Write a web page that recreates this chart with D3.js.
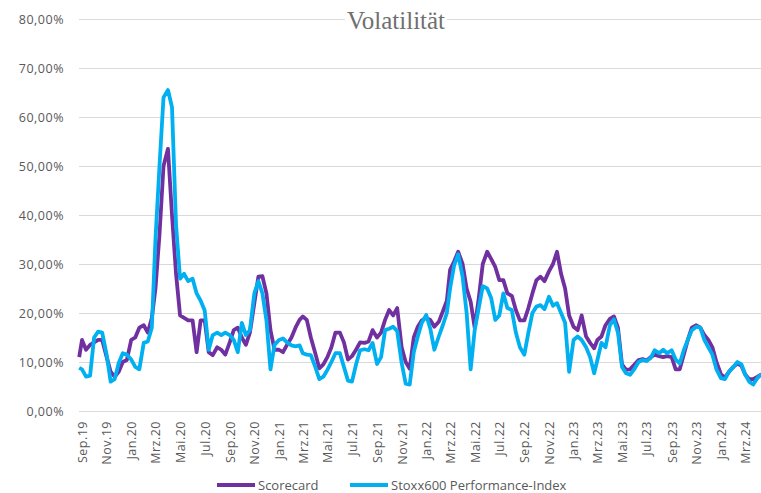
<!DOCTYPE html>
<html>
<head>
<meta charset="utf-8">
<script src="https://cdn.jsdelivr.net/npm/d3@7"></script>
<style>
  body { margin:0; background:#fff; }
  svg text { font-family:"Open Sans", sans-serif; fill:#595959; }
</style>
</head>
<body>
<div class="chart"></div>
<script>
// Volatilität, Stichtage 1./11./21. des Monats
const dates = [
  "2019-08-25",
  "2019-09-01","2019-09-11","2019-09-21","2019-10-01","2019-10-11","2019-10-21",
  "2019-11-01","2019-11-11","2019-11-21","2019-12-01","2019-12-11","2019-12-21",
  "2020-01-01","2020-01-11","2020-01-21","2020-02-01","2020-02-11","2020-02-21",
  "2020-03-01","2020-03-11","2020-03-21","2020-04-01","2020-04-11","2020-04-21",
  "2020-05-01","2020-05-11","2020-05-21","2020-06-01","2020-06-11","2020-06-21",
  "2020-07-01","2020-07-11","2020-07-21","2020-08-01","2020-08-11","2020-08-21",
  "2020-09-01","2020-09-11","2020-09-21","2020-10-01","2020-10-11","2020-10-21",
  "2020-11-01","2020-11-11","2020-11-21","2020-12-01","2020-12-11","2020-12-21",
  "2021-01-01","2021-01-11","2021-01-21","2021-02-01","2021-02-11","2021-02-21",
  "2021-03-01","2021-03-11","2021-03-21","2021-04-01","2021-04-11","2021-04-21",
  "2021-05-01","2021-05-11","2021-05-21","2021-06-01","2021-06-11","2021-06-21",
  "2021-07-01","2021-07-11","2021-07-21","2021-08-01","2021-08-11","2021-08-21",
  "2021-09-01","2021-09-11","2021-09-21","2021-10-01","2021-10-11","2021-10-21",
  "2021-11-01","2021-11-11","2021-11-21","2021-12-01","2021-12-11","2021-12-21",
  "2022-01-01","2022-01-11","2022-01-21","2022-02-01","2022-02-11","2022-02-21",
  "2022-03-01","2022-03-11","2022-03-21","2022-04-01","2022-04-11","2022-04-21",
  "2022-05-01","2022-05-11","2022-05-21","2022-06-01","2022-06-11","2022-06-21",
  "2022-07-01","2022-07-11","2022-07-21","2022-08-01","2022-08-11","2022-08-21",
  "2022-09-01","2022-09-11","2022-09-21","2022-10-01","2022-10-11","2022-10-21",
  "2022-11-01","2022-11-11","2022-11-21","2022-12-01","2022-12-11","2022-12-21",
  "2023-01-01","2023-01-11","2023-01-21","2023-02-01","2023-02-11","2023-02-21",
  "2023-03-01","2023-03-11","2023-03-21","2023-04-01","2023-04-11","2023-04-21",
  "2023-05-01","2023-05-11","2023-05-21","2023-06-01","2023-06-11","2023-06-21",
  "2023-07-01","2023-07-11","2023-07-21","2023-08-01","2023-08-11","2023-08-21",
  "2023-09-01","2023-09-11","2023-09-21","2023-10-01","2023-10-11","2023-10-21",
  "2023-11-01","2023-11-11","2023-11-21","2023-12-01","2023-12-11","2023-12-21",
  "2024-01-01","2024-01-11","2024-01-21","2024-02-01","2024-02-11","2024-02-21",
  "2024-03-01","2024-03-11","2024-03-21","2024-04-01","2024-04-11"
];

// Werte in %
const scorecard = [
  11,
  14.5,12.5,13.5, 14,14.5,14.5, 11,8,7, 8,10,10.4,
  14.5,15,17, 17.5,16,19, 25,36,50, 53.5,40,28,
  19.5,19,18.5, 18.5,12,18.5, 18.5,12,11.4, 13,12.5,11.5,
  14,16.5,17, 15,13.5,16, 22,27.4,27.5, 24,16.5,12.5,
  12.5,12,13.5, 15,17,18.6, 19.3,18.6,15, 11.8,8.7,9.5,
  11,13,16, 16,14,10.5, 11.2,12.5,14, 13.9,14.2,16.5,
  15,16,18.6, 20.6,19.5,21, 13,10,8.6, 15,17.2,18.5,
  19,18.6,17.2, 18.2,20.3,22.5, 28.8,30.5,32.5, 30,25,22.3,
  17,23,30, 32.5,31,29.4, 26.7,26.7,24, 23.5,20.6,18.5,
  18.5,21,24, 26.7,27.4,26.5, 28.5,30,32.5, 28,25,19.5,
  17.2,16.5,19.5, 15.2,13.9,12.8, 14.5,15.2,17.5, 18.8,19.3,17,
  9.5,8.4,8.5, 9.5,10.4,10.6, 10.3,11,11.5, 11.2,11,11.2,
  11,8.5,8.5, 11.5,14.5,17, 17.5,17,15.5, 14.5,13,10,
  7.5,6.8,8, 9,9.7,9.2, 7.5,6.5,6.5, 7,7.5
];

const stoxx600 = [
  8.8,
  8.5,7,7.2, 15,16.2,16, 11.5,6,6.5, 9.8,11.8,11.5,
  10.5,9,8.5, 13.9,14.2,17, 35,50,64, 65.5,62,38,
  27,28,26.5, 27,24,22.5, 20.5,12.5,15.5, 16,15.5,16,
  15.5,14.5,12, 18,15.5,16.5, 24,26.5,24, 18.5,8.5,13.5,
  14.5,14.8,14, 13.4,13.2,13.4, 11.8,11.5,11.4, 9,6.5,7,
  8.4,10,11.8, 11.8,9,6.2, 6,9.5,12.4, 12.6,12.4,13.9,
  9.6,11,16.5, 16.8,17.2,16.3, 9.8,5.6,5.4, 12,15.2,18,
  19.6,16.8,12.5, 15.2,17.5,20, 25,29.7,32, 27.4,20,8.5,
  16.5,21,25.5, 25,23,18.6, 19.5,24,21, 20.6,16,13,
  11.5,16,20, 21.3,21.6,20.8, 23.3,21.5,22, 20,18,8,
  14.5,15.2,14.5, 13,11,7.7, 10.4,13.9,13, 17.5,18.7,16,
  9,7.7,7.4, 8.6,10,10.4, 10.2,10.8,12.4, 11.8,12.5,11.8,
  12.4,10.5,9.7, 12.4,14.5,16.5, 17.2,17,14.5, 13,11.5,8.5,
  6.7,6.5,8, 9,10,9.5, 7.5,6,5.4, 6.8,7.5
];

const monthNames = ["Jan","Feb","Mrz","Apr","Mai","Jun","Jul","Aug","Sep","Okt","Nov","Dez"];
const yTicks = [0,10,20,30,40,50,60,70,80];
const seriesNames = ["Scorecard","Stoxx600 Performance-Index"];
const colors = ["#7030A0","#00B0F0"];

const W = 761, H = 493;
const margin = { top:19, left:79, right:0, bottom:82 };

const parse = d3.timeParse("%Y-%m-%d");
const t = dates.map(parse);

const svg = d3.select(".chart").append("svg")
  .attr("width",W)
  .attr("height",H);

const x = d3.scaleTime()
  .domain([parse("2019-09-01"), parse("2024-03-01")])
  .range([82, 745.1]);

const y = d3.scaleLinear()
  .domain([0,80])
  .range([H - margin.bottom, margin.top]);

// gridlines + y labels
const yAxis = d3.axisLeft(y)
  .tickValues(yTicks)
  .tickSize(-(W - margin.left))
  .tickPadding(15)
  .tickFormat(d => d3.format(".2f")(d).replace(".",",") + "%");

const gy = svg.append("g")
  .attr("transform",`translate(${margin.left},0)`)
  .call(yAxis);
gy.select(".domain").remove();
gy.selectAll(".tick line").attr("stroke","#d9d9d9");
gy.selectAll(".tick text")
  .style("font-size","12.5px")
  .style("letter-spacing","0.5px");

// x labels every 2 months
const xAxis = d3.axisBottom(x)
  .ticks(d3.timeMonth.every(2))
  .tickSize(0)
  .tickFormat(d => `${monthNames[d.getMonth()]}.${String(d.getFullYear()).slice(2)}`);

const gx = svg.append("g")
  .attr("transform",`translate(0,${H - margin.bottom})`)
  .call(xAxis);
gx.select(".domain").remove();
gx.selectAll(".tick text")
  .attr("transform","rotate(-90)")
  .attr("text-anchor","end")
  .attr("x",-10)
  .attr("y",0)
  .attr("dy","0.35em")
  .style("font-size","12.5px")
  .style("letter-spacing","0.5px");

// lines
const line = d3.line()
  .x((d,i) => x(t[i]))
  .y(d => y(d));

[scorecard, stoxx600].forEach((s,k) => {
  svg.append("path")
    .datum(s)
    .attr("fill","none")
    .attr("stroke",colors[k])
    .attr("stroke-width",3.8)
    .attr("stroke-linejoin","round")
    .attr("d",line);
});

// title with white box over gridline
const title = svg.append("g");
const tt = title.append("text")
  .attr("x",396)
  .attr("y",29)
  .attr("text-anchor","middle")
  .style("font-family","'Liberation Serif', serif")
  .style("font-size","25px")
  .style("fill","#6f6f6f")
  .text("Volatilität");
const bb = tt.node().getBBox();
title.insert("rect","text")
  .attr("x",bb.x - 2).attr("y",bb.y)
  .attr("width",bb.width + 4).attr("height",bb.height)
  .attr("fill","#fff");

// legend
const legendX = [217, 350];
const legend = svg.append("g");
seriesNames.forEach((n,k) => {
  legend.append("line")
    .attr("x1",legendX[k]).attr("x2",legendX[k] + 38)
    .attr("y1",485).attr("y2",485)
    .attr("stroke",colors[k])
    .attr("stroke-width",4);
  legend.append("text")
    .attr("x",legendX[k] + 41)
    .attr("y",490)
    .style("font-size","13px")
    .text(n);
});
</script>
</body>
</html>
